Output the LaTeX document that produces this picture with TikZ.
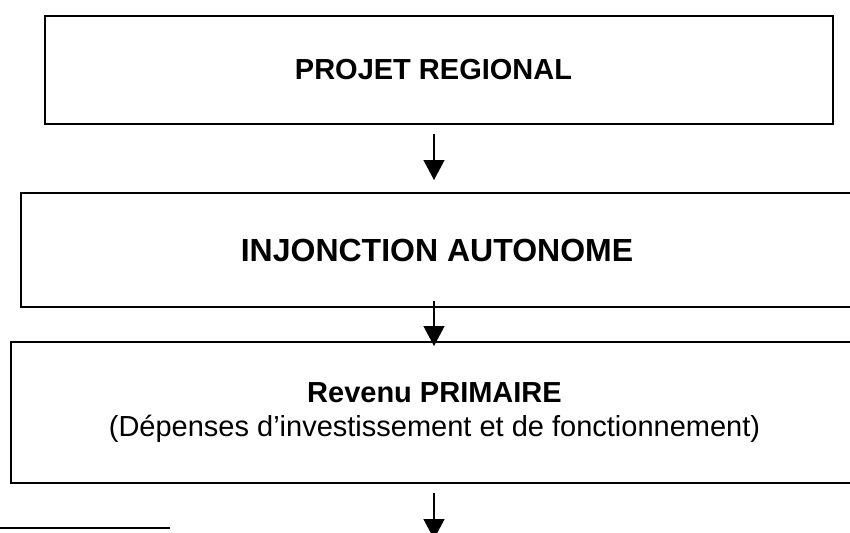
\documentclass[tikz,border=0pt]{standalone}
\usepackage{fontspec}
\setmainfont{Liberation Sans}
\usetikzlibrary{arrows.meta}
\begin{document}
\begin{tikzpicture}[x=1pt,y=-1pt,
  boxstyle/.style={draw=black, line width=2pt, rectangle, inner sep=0pt, align=center},
  arr/.style={line width=1.3pt, -{Triangle[length=20pt,width=21pt]}}]
\useasboundingbox (0,0) rectangle (850,532);
\clip (0,0) rectangle (850,532);
\node[boxstyle, minimum width=788pt, minimum height=108pt, font=\bfseries\fontsize{29}{34}\selectfont] (b1) at (439,70) {\hspace*{-11pt}PROJET REGIONAL};
\node[boxstyle, minimum width=832pt, minimum height=114pt, font=\bfseries\fontsize{32}{38}\selectfont] (b2) at (437,250) {INJONCTION AUTONOME};
\node[boxstyle, minimum width=847pt, minimum height=141pt, font=\fontsize{29}{34}\selectfont] (b3) at (434.5,412.5) {\textbf{Revenu PRIMAIRE}\\(Dépenses d’investissement et de fonctionnement)};
\coordinate (colx) at (434,0);
\coordinate (a3end) at (434,539);
\draw[arr, shorten <=9pt, shorten >=12pt] (b1.south -| colx) -- (b2.north -| colx);
\draw[arr, shorten <=-7pt, shorten >=-5pt] (b2.south -| colx) -- (b3.north -| colx);
\draw[arr, shorten <=9pt] (b3.south -| colx) -- (a3end);
\draw[line width=2pt] (0,528) -- (170,528);
\end{tikzpicture}
\end{document}
